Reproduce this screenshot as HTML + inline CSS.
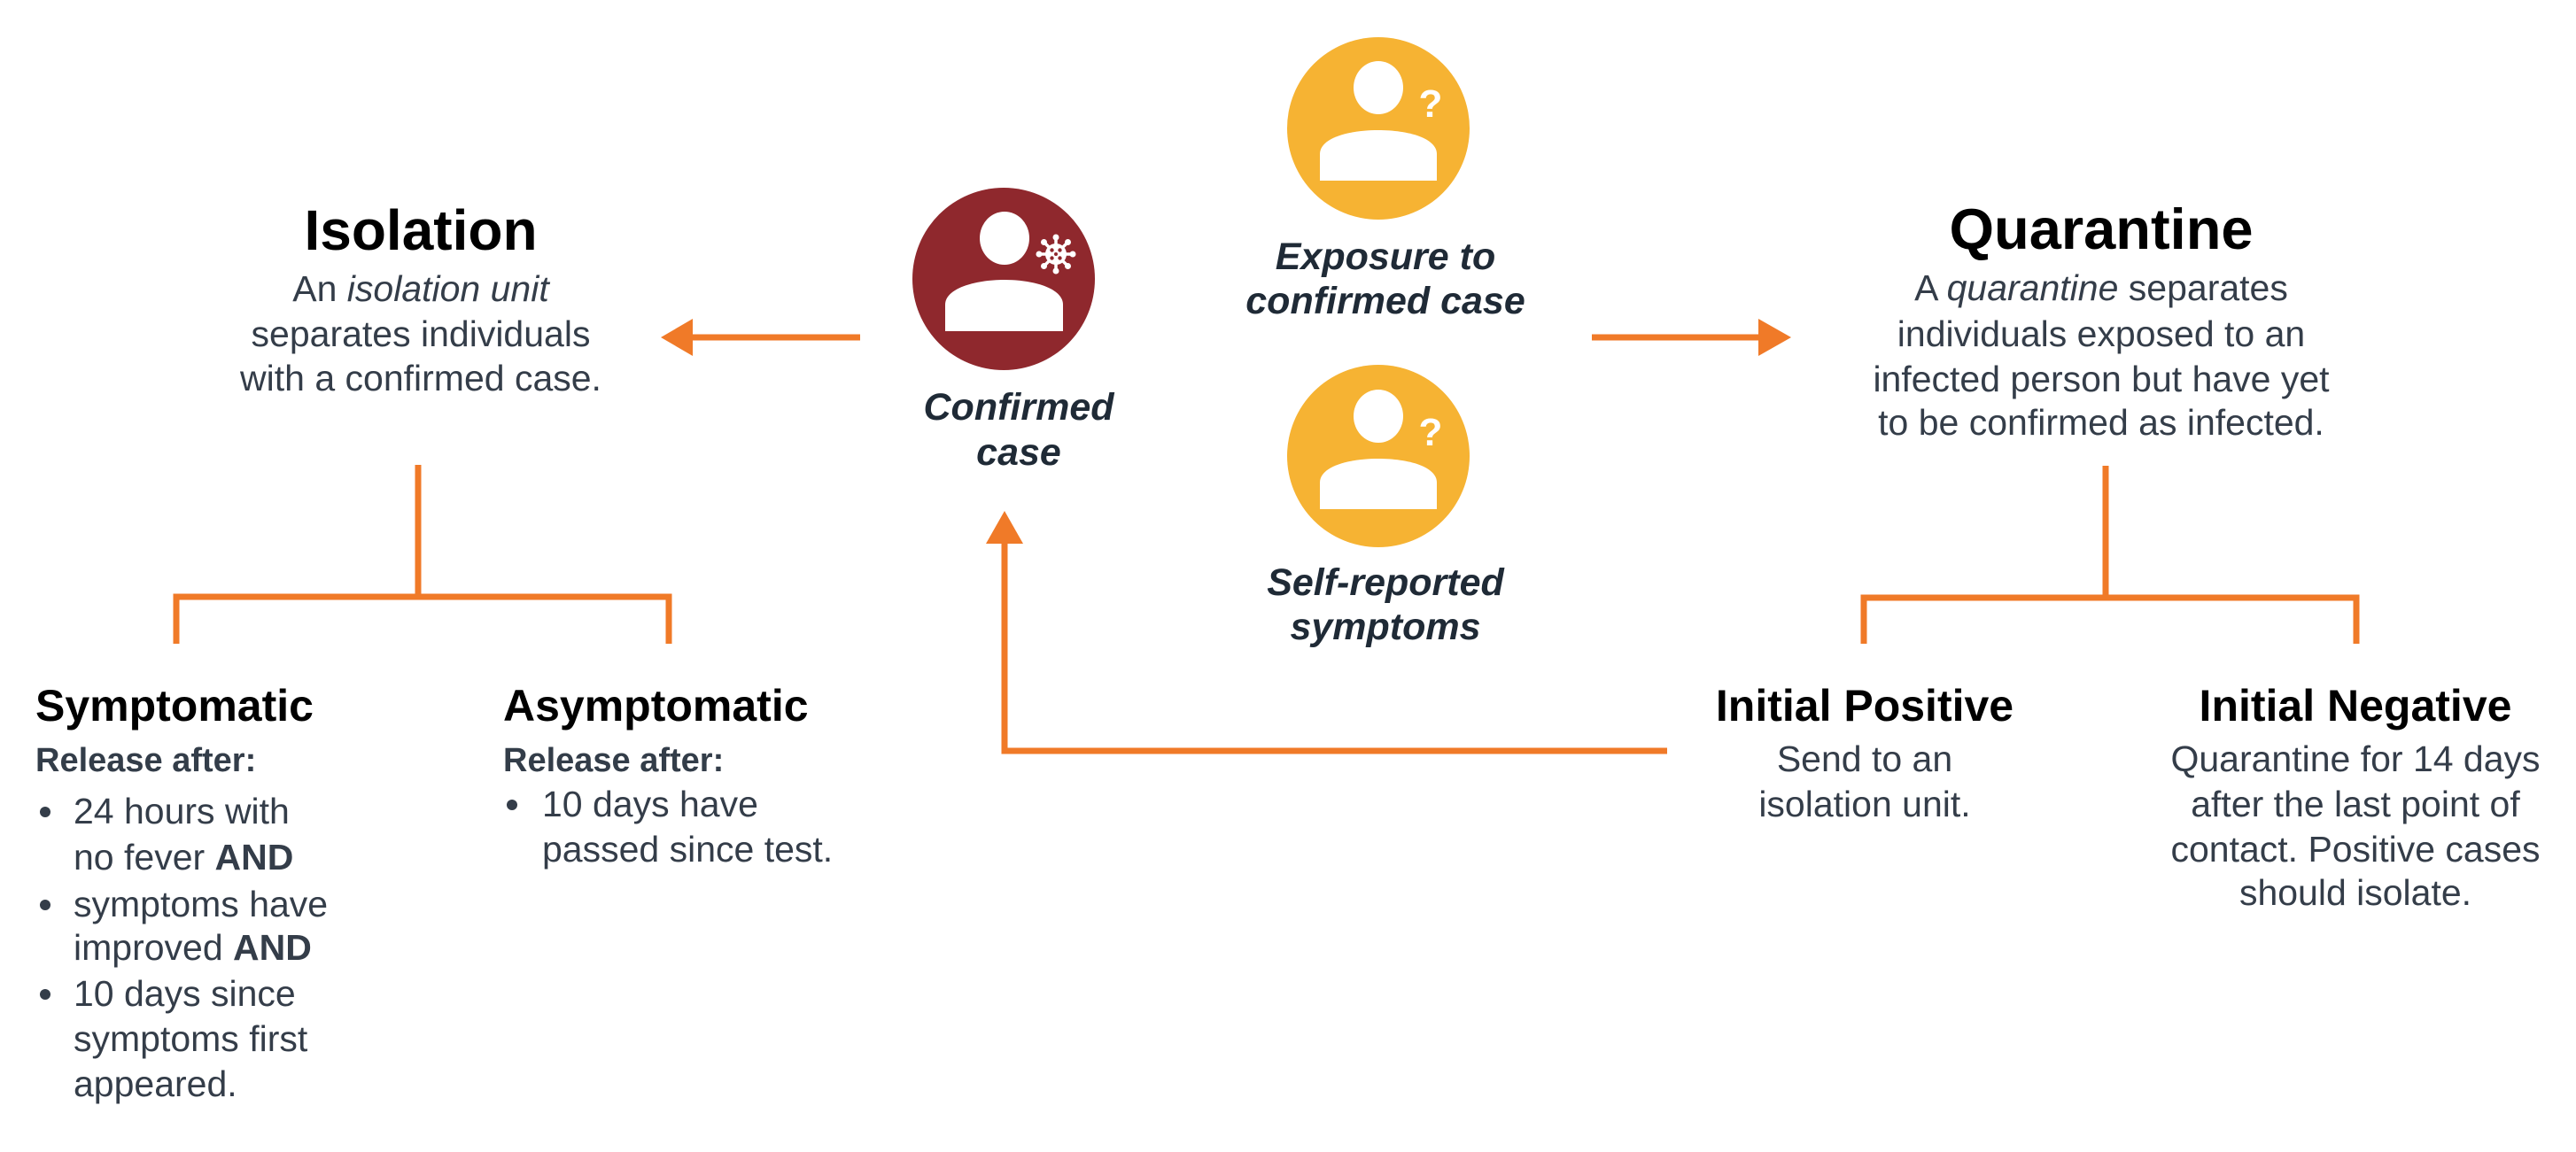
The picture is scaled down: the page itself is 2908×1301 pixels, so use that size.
<!DOCTYPE html>
<html><head><meta charset="utf-8"><style>
html,body{margin:0;padding:0;background:#fff;}
svg{display:block;}
text{font-family:"Liberation Sans",sans-serif;}
.h{font-weight:bold;fill:#000;}
.d{font-size:41px;fill:#343d49;}
.ci{font-weight:bold;font-style:italic;font-size:43px;fill:#1f2a36;}
.ra{font-weight:bold;font-size:38px;fill:#333d49;}
</style></head><body>
<svg width="2908" height="1301" viewBox="0 0 2908 1301" xmlns="http://www.w3.org/2000/svg">
<g stroke="#f07a28" stroke-width="7" fill="none">
<line x1="779" y1="381" x2="971" y2="381"/>
<line x1="1797" y1="381" x2="1990" y2="381"/>
<polyline points="1134,612 1134,848 1882,848"/>
<line x1="472" y1="525" x2="472" y2="674"/>
<polyline points="199,727 199,674 755,674 755,727"/>
<line x1="2377" y1="526" x2="2377" y2="675"/>
<polyline points="2104,727 2104,675 2660,675 2660,727"/>
</g>
<g fill="#f07a28">
<polygon points="746,381 782,360 782,402"/>
<polygon points="2022,381 1985,360 1985,402"/>
<polygon points="1134,577 1113,614 1155,614"/>
</g>
<!-- confirmed case -->
<circle cx="1133" cy="315" r="103" fill="#8f282d"/>
<ellipse cx="1134" cy="269" rx="28" ry="30" fill="#fff"/>
<path d="M1067,374 V344 C1067,326 1100,316 1134,316 C1168,316 1200,326 1200,344 V374 Z" fill="#fff"/>
<g transform="translate(1192,287)" fill="#fff" stroke="#fff">
<circle r="12" stroke="none"/>
<g stroke-width="3.5">
<line x1="0" y1="0" x2="0" y2="-19"/><line x1="0" y1="0" x2="0" y2="19"/>
<line x1="0" y1="0" x2="19" y2="0"/><line x1="0" y1="0" x2="-19" y2="0"/>
<line x1="0" y1="0" x2="13.5" y2="13.5"/><line x1="0" y1="0" x2="-13.5" y2="13.5"/>
<line x1="0" y1="0" x2="13.5" y2="-13.5"/><line x1="0" y1="0" x2="-13.5" y2="-13.5"/>
</g>
<g stroke="none"><circle cx="0" cy="-19" r="3.5"/><circle cx="0" cy="19" r="3.5"/><circle cx="19" cy="0" r="3.5"/><circle cx="-19" cy="0" r="3.5"/>
<circle cx="13.5" cy="13.5" r="3.5"/><circle cx="-13.5" cy="13.5" r="3.5"/><circle cx="13.5" cy="-13.5" r="3.5"/><circle cx="-13.5" cy="-13.5" r="3.5"/></g>
<g fill="#8f282d" stroke="none"><circle cx="-4.5" cy="-4.5" r="2.2"/><circle cx="4.5" cy="-4.5" r="2.2"/><circle cx="-4.5" cy="4.5" r="2.2"/><circle cx="4.5" cy="4.5" r="2.2"/><circle cx="0" cy="0" r="2"/></g>
</g>
<text class="ci" x="1150" y="474" text-anchor="middle">Confirmed</text>
<text class="ci" x="1150" y="525" text-anchor="middle">case</text>
<!-- yellow 1 -->
<circle cx="1556" cy="145" r="103" fill="#f6b333"/>
<ellipse cx="1556" cy="99" rx="28" ry="30" fill="#fff"/>
<path d="M1490,204 V174 C1490,156 1522,147 1556,147 C1590,147 1622,156 1622,174 V204 Z" fill="#fff"/>
<text x="1615" y="132" text-anchor="middle" font-size="44" font-weight="bold" fill="#fff">?</text>
<text class="ci" x="1564" y="304" text-anchor="middle">Exposure to</text>
<text class="ci" x="1564" y="354" text-anchor="middle">confirmed case</text>
<!-- yellow 2 -->
<circle cx="1556" cy="515" r="103" fill="#f6b333"/>
<ellipse cx="1556" cy="470" rx="28" ry="30" fill="#fff"/>
<path d="M1490,575 V545 C1490,527 1522,518 1556,518 C1590,518 1622,527 1622,545 V575 Z" fill="#fff"/>
<text x="1615" y="503" text-anchor="middle" font-size="44" font-weight="bold" fill="#fff">?</text>
<text class="ci" x="1564" y="672" text-anchor="middle">Self-reported</text>
<text class="ci" x="1564" y="722" text-anchor="middle">symptoms</text>
<!-- Isolation -->
<text class="h" x="475" y="282" text-anchor="middle" font-size="64">Isolation</text>
<text class="d" x="475" y="340" text-anchor="middle">An <tspan font-style="italic">isolation unit</tspan></text>
<text class="d" x="475" y="391" text-anchor="middle">separates individuals</text>
<text class="d" x="475" y="441" text-anchor="middle">with a confirmed case.</text>
<text class="h" x="40" y="814" font-size="50">Symptomatic</text>
<text class="ra" x="40" y="871">Release after:</text>
<g fill="#343d49">
<circle cx="51" cy="917" r="6"/><circle cx="51" cy="1022" r="6"/><circle cx="51" cy="1123" r="6"/>
<circle cx="578" cy="909" r="6"/>
</g>
<text class="d" x="83" y="930">24 hours with</text>
<text class="d" x="83" y="982">no fever <tspan font-weight="bold">AND</tspan></text>
<text class="d" x="83" y="1035">symptoms have</text>
<text class="d" x="83" y="1084">improved <tspan font-weight="bold">AND</tspan></text>
<text class="d" x="83" y="1136">10 days since</text>
<text class="d" x="83" y="1187">symptoms first</text>
<text class="d" x="83" y="1238">appeared.</text>
<text class="h" x="568" y="814" font-size="50">Asymptomatic</text>
<text class="ra" x="568" y="871">Release after:</text>
<text class="d" x="612" y="922">10 days have</text>
<text class="d" x="612" y="973">passed since test.</text>
<!-- Quarantine -->
<text class="h" x="2372" y="281" text-anchor="middle" font-size="65">Quarantine</text>
<text class="d" x="2372" y="339" text-anchor="middle">A <tspan font-style="italic">quarantine</tspan> separates</text>
<text class="d" x="2372" y="391" text-anchor="middle">individuals exposed to an</text>
<text class="d" x="2372" y="442" text-anchor="middle">infected person but have yet</text>
<text class="d" x="2372" y="491" text-anchor="middle">to be confirmed as infected.</text>
<text class="h" x="2105" y="814" text-anchor="middle" font-size="50">Initial Positive</text>
<text class="d" x="2105" y="871" text-anchor="middle">Send to an</text>
<text class="d" x="2105" y="922" text-anchor="middle">isolation unit.</text>
<text class="h" x="2659" y="814" text-anchor="middle" font-size="50">Initial Negative</text>
<text class="d" x="2659" y="871" text-anchor="middle">Quarantine for 14 days</text>
<text class="d" x="2659" y="922" text-anchor="middle">after the last point of</text>
<text class="d" x="2659" y="973" text-anchor="middle">contact. Positive cases</text>
<text class="d" x="2659" y="1022" text-anchor="middle">should isolate.</text>
</svg>
</body></html>
